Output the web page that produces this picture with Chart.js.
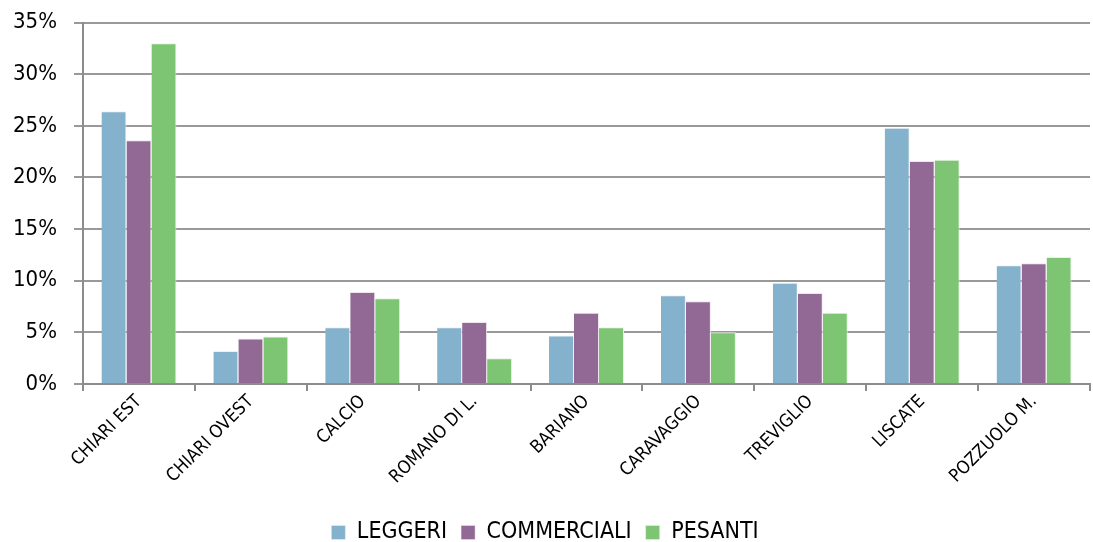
<!DOCTYPE html>
<html><head><meta charset="utf-8">
<script src="https://cdn.jsdelivr.net/npm/chart.js@4"></script>
<style>html,body{margin:0;padding:0;background:#fff}#w{width:1093px;height:542px}</style>
</head><body><div id="w"><canvas id="c"></canvas></div>
<script>
const categories = ["CHIARI EST","CHIARI OVEST","CALCIO","ROMANO DI L.","BARIANO","CARAVAGGIO","TREVIGLIO","LISCATE","POZZUOLO M."];
const leggeri = [26.4, 3.2, 5.5, 5.5, 4.7, 8.6, 9.8, 24.8, 11.5];
const commerciali = [23.6, 4.4, 8.9, 6.0, 6.9, 8.0, 8.8, 21.6, 11.7];
const pesanti = [33.0, 4.6, 8.3, 2.5, 5.5, 5.0, 6.9, 21.7, 12.3];
const yTicks = [0,5,10,15,20,25,30,35];
const FONT = "'DejaVu Sans Condensed','DejaVu Sans',sans-serif";
new Chart(document.getElementById('c'), {
  type: 'bar',
  data: { labels: categories, datasets: [
    {label:'LEGGERI', data: leggeri, backgroundColor:'#84B1CB', borderColor:'#EAF2F7', borderWidth:{right:1,top:1,left:0}},
    {label:'COMMERCIALI', data: commerciali, backgroundColor:'#926895', borderColor:'#EEE5EE', borderWidth:{right:1,top:1,left:0}},
    {label:'PESANTI', data: pesanti, backgroundColor:'#7DC572', borderColor:'#E6F4E3', borderWidth:{right:1,top:1,left:0}}
  ]},
  options: {
    responsive:true, maintainAspectRatio:false, animation:false,
    layout:{padding:{left:0,right:3,top:0,bottom:-12}},
    categoryPercentage:0.67, barPercentage:1.0,
    plugins:{
      legend:{position:'bottom', labels:{font:{family:FONT,size:23}, color:'#000', boxWidth:14, boxHeight:14, padding:14}},
      tooltip:{enabled:false}
    },
    scales:{
      x:{
        afterFit: s => { s.height = 123; },
        grid:{display:true, drawOnChartArea:false, drawTicks:true, tickLength:7, color:'#8c8c8c', lineWidth:2, offset:true},
        border:{color:'#8c8c8c', width:2},
        ticks:{font:{family:FONT,size:18}, color:'#000', maxRotation:45, minRotation:45, autoSkip:false, padding:0}
      },
      y:{
        min:0, max:35,
        afterBuildTicks: s => { s.ticks = yTicks.map(v=>({value:v})); },
        afterFit: s => { s.width = 83; },
        grid:{color:'#999999', lineWidth:2, tickLength:9, drawTicks:true},
        border:{color:'#8c8c8c', width:2},
        ticks:{font:{family:FONT,size:22,lineHeight:0.5}, color:'#000', padding:17, callback:v=>v+'%'}
      }
    }
  }
});
</script></body></html>
